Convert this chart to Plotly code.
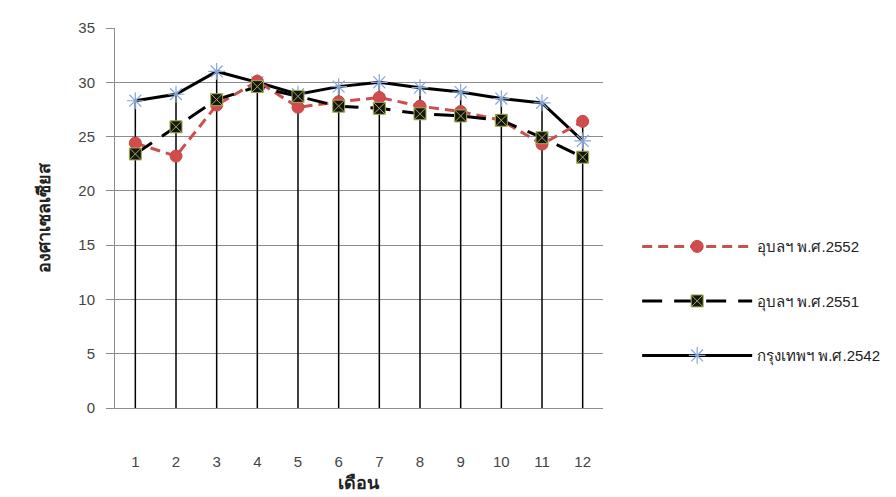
import plotly.graph_objects as go

# Monthly mean temperature (°C)
months = [1, 2, 3, 4, 5, 6, 7, 8, 9, 10, 11, 12]
ubon_2552 = [24.4, 23.2, 27.9, 30.1, 27.7, 28.2, 28.6, 27.8, 27.3, 26.5, 24.3, 26.4]
ubon_2551 = [23.4, 25.9, 28.4, 29.6, 28.7, 27.8, 27.6, 27.1, 26.9, 26.5, 24.9, 23.1]
bangkok_2542 = [28.3, 28.9, 31.0, 30.0, 28.9, 29.6, 30.0, 29.5, 29.1, 28.5, 28.1, 24.6]

name_2552 = "อุบลฯ พ.ศ.2552"
name_2551 = "อุบลฯ พ.ศ.2551"
name_2542 = "กรุงเทพฯ พ.ศ.2542"
x_title = "เดือน"
y_title = "องศาเซลเซียส"
y_ticks = [0, 5, 10, 15, 20, 25, 30, 35]

FONT = "Liberation Sans, Arial, sans-serif"

fig = go.Figure()

# Drop lines: from the highest series value of each month down to zero
drop_x, drop_y = [], []
for m, a, b, c in zip(months, ubon_2552, ubon_2551, bangkok_2542):
    drop_x += [m, m, None]
    drop_y += [0, max(a, b, c), None]
fig.add_trace(go.Scatter(
    x=drop_x, y=drop_y, mode="lines",
    line=dict(color="#000000", width=1.5),
    showlegend=False, hoverinfo="skip",
))

fig.add_trace(go.Scatter(
    x=months, y=bangkok_2542, name=name_2542, legendgroup="c", legendrank=3,
    mode="lines+markers",
    line=dict(color="#000000", width=3),
    marker=dict(symbol="asterisk-open", size=14, color="#86a6d8",
                line=dict(color="#86a6d8", width=1.2)),
))

fig.add_trace(go.Scatter(
    x=months, y=ubon_2552, name=name_2552, legendgroup="a", legendrank=1,
    mode="lines+markers",
    line=dict(color="#c9504f", width=3, dash="10px,6px"),
    marker=dict(symbol="circle", size=12, color="#d24c4c",
                line=dict(color="#c04848", width=1)),
))

fig.add_trace(go.Scatter(
    x=months, y=ubon_2551, name=name_2551, legendgroup="b", legendrank=2,
    mode="lines+markers",
    line=dict(color="#000000", width=3, dash="20px,12px"),
    marker=dict(symbol="square-x", size=12, color="#141414",
                line=dict(color="#a3b04c", width=1)),
))

fig.update_layout(
    width=896, height=497,
    margin=dict(l=115, r=293, t=28, b=89, autoexpand=False),
    paper_bgcolor="#ffffff",
    plot_bgcolor="rgba(0,0,0,0)",
    font=dict(family=FONT, size=15, color="#444444"),
    showlegend=True,
    legend=dict(
        x=1.07, xanchor="left", y=0.468, yanchor="top",
        bgcolor="rgba(0,0,0,0)",
        font=dict(family=FONT, size=15, color="#222222"),
        itemwidth=110, tracegroupgap=32,
        traceorder="grouped",
    ),
    xaxis=dict(
        range=[0.5, 12.5], tickvals=months, ticktext=[str(m) for m in months],
        showgrid=False, zeroline=False,
        showline=True, linecolor="#8c8c8c", linewidth=1,
        ticks="", ticklabelstandoff=40,
        tickfont=dict(family=FONT, size=15, color="#444444"),
    ),
    yaxis=dict(
        range=[0, 35], tickvals=y_ticks,
        showgrid=True, gridcolor="#8c8c8c", gridwidth=1,
        zeroline=False,
        showline=True, linecolor="#8c8c8c", linewidth=1,
        ticks="outside", ticklen=8, tickcolor="#8c8c8c",
        ticklabelstandoff=8,
        tickfont=dict(family=FONT, size=15, color="#444444"),
    ),
    annotations=[
        dict(text=f"<b>{x_title}</b>", xref="paper", yref="paper",
             x=0.5, y=-0.229, xanchor="center", yanchor="bottom", showarrow=False,
             font=dict(family=FONT, size=18, color="#222222")),
        dict(text=f"<b>{y_title}</b>", xref="paper", yref="paper",
             x=-0.145, y=0.5, xanchor="center", yanchor="middle", showarrow=False,
             textangle=-90,
             font=dict(family=FONT, size=18, color="#222222")),
    ],
)

fig.write_html("out.html")
